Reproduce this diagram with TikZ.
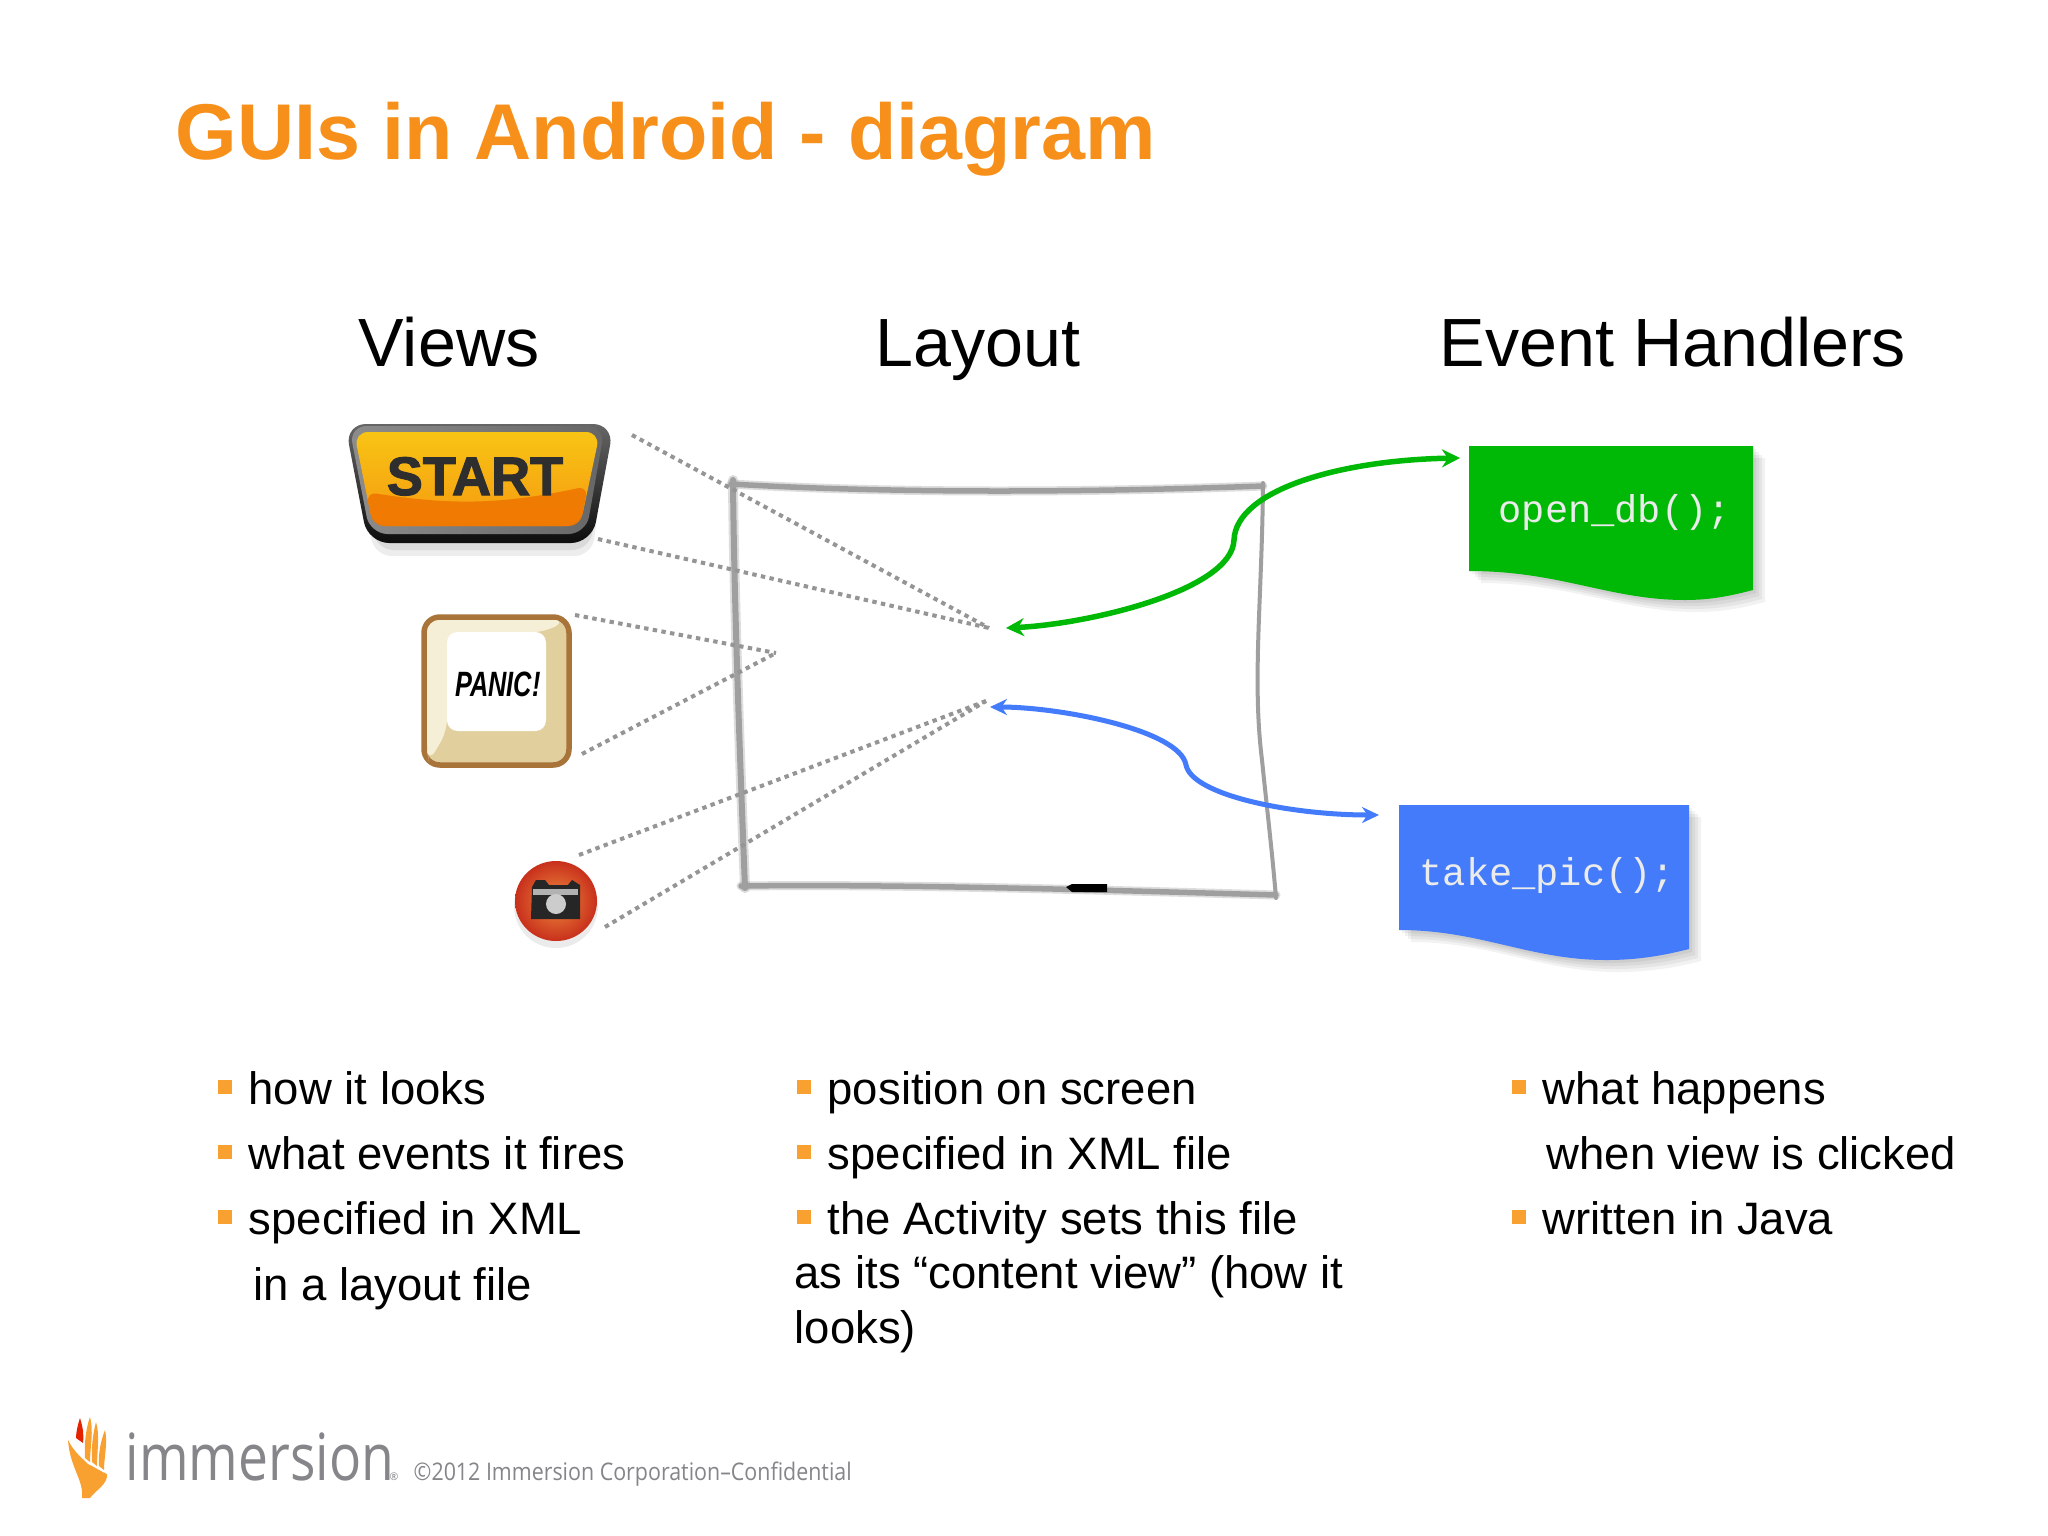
\documentclass[tikz,border=0pt]{standalone}
\usepackage{fontspec}
\setmainfont{Liberation Sans}
\newfontfamily\monof{Liberation Mono}
\newfontfamily\logof{Open Sans}
\usetikzlibrary{arrows.meta,calc}
\definecolor{titleor}{HTML}{F7901A}
\definecolor{bulor}{HTML}{F8A030}
\definecolor{grn}{HTML}{00B906}
\definecolor{blu}{HTML}{437BFB}
\definecolor{sk}{HTML}{9F9F9F}
\definecolor{dotg}{HTML}{959595}
\definecolor{logog}{HTML}{85858A}
\definecolor{keyb}{HTML}{A9743A}
\definecolor{keyl}{HTML}{F6EFD8}
\definecolor{keyd}{HTML}{E1CF9E}
\definecolor{btnt}{HTML}{F8C414}
\definecolor{btnb}{HTML}{F59A10}
\definecolor{btnl}{HTML}{F07400}
\definecolor{camc}{HTML}{EE8A3C}
\definecolor{camo}{HTML}{C8301C}
\tikzset{
  x=0.01cm,y=-0.01cm,
  titletxt/.style={anchor=base west,inner sep=0,text=titleor,font=\fontsize{22.5}{27}\selectfont\bfseries},
  headtxt/.style={anchor=base west,inner sep=0,font=\fontsize{19.4}{23}\selectfont},
  bodytxt/.style={anchor=base west,inner sep=0,font=\fontsize{12.93}{16}\selectfont},
  bul/.style={fill=bulor,draw=none},
  codetxt/.style={anchor=base west,inner sep=0,text=white!92!black,font=\monof\fontsize{11}{13}\selectfont},
  dotline/.style={draw=dotg,line width=0.04cm,dash pattern=on 1.25pt off 1.25pt},
  sketch/.style={draw=sk,line cap=round,line join=round},
  sketchblur/.style={draw=sk,opacity=0.35,line cap=round,line join=round},
  garrow/.style={draw=grn,line width=0.055cm,{Stealth[length=0.18cm,width=0.18cm]}-{Stealth[length=0.18cm,width=0.18cm]}},
  barrow/.style={draw=blu,line width=0.05cm,{Stealth[length=0.17cm,width=0.16cm]}-{Stealth[length=0.17cm,width=0.16cm]}},
  shad/.style={fill=black,fill opacity=0.05,draw=none},
}
\begin{document}
\begin{tikzpicture}
\useasboundingbox (0,0) rectangle (2048,1536);
\fill[white] (0,0) rectangle (2048,1536);

% title and headings
\node[titletxt] (title) at (175,159) {GUIs in Android - diagram};
\node[headtxt] (hviews) at (358,366) {Views};
\node[headtxt] (hlayout) at (875,366) {Layout};
\node[headtxt] (hevents) at (1439,366) {Event Handlers};

% sketched layout rectangle
\draw[sketchblur,line width=0.10cm] (733,480) .. controls (734,600) and (740,760) .. (745,888);
\draw[sketch,line width=0.06cm] (733,480) .. controls (734,600) and (740,760) .. (745,888);
\draw[sketchblur,line width=0.09cm] (731,484) .. controls (900,494) and (1100,492) .. (1263,486);
\draw[sketch,line width=0.055cm] (731,484) .. controls (900,494) and (1100,492) .. (1263,486);
\draw[sketch,line width=0.04cm] (1263,483) .. controls (1262,600) and (1252,680) .. (1262,760) .. controls (1266,800) and (1272,850) .. (1276,898);
\draw[sketchblur,line width=0.09cm] (741,886) .. controls (900,884) and (1100,890) .. (1276,895);
\draw[sketch,line width=0.055cm] (741,886) .. controls (900,884) and (1100,890) .. (1276,895);
\fill[black] (1066,887) -- (1072,884) -- (1107,884) -- (1107,892) -- (1072,892) -- cycle;

% START button
\fill[black,opacity=0.07,rounded corners=5pt] (358,450) -- (606,450) -- (592,556) -- (374,556) -- cycle;
\fill[black,opacity=0.08,rounded corners=5pt] (360,450) -- (604,450) -- (590,550) -- (376,550) -- cycle;
\shade[top color=black!60,bottom color=black!95,rounded corners=6pt] (345,424) -- (614,424) -- (592,543) -- (368,543) -- cycle;
\shade[left color=black!45,right color=black!60,rounded corners=5pt] (349,426) -- (605,426) -- (586,534) -- (370,534) -- cycle;
\shade[top color=btnt,bottom color=btnb,rounded corners=4pt] (354,432) -- (600,432) -- (580,526) -- (373,526) -- cycle;
\fill[btnl,opacity=0.85,rounded corners=3pt] (366,492) .. controls (450,505) and (500,505) .. (588,486) -- (580,526) -- (373,526) -- cycle;
\node[anchor=base,inner sep=0,text=black!82,font=\fontsize{15.4}{18}\selectfont\bfseries\addfontfeature{FakeBold=2}] (start) at (475,495) {START};

% PANIC key
\draw[keyb,line width=0.055cm,fill=keyd,rounded corners=4.5pt] (424,617) rectangle (569,765);
\fill[keyl,rounded corners=3.5pt] (427,620) -- (566,620) -- (546,632) -- (447,632) -- (447,731) -- (429,762) -- (427,750) -- cycle;
\fill[white,rounded corners=3pt] (447,632) rectangle (546,731);
\node[inner sep=0,font=\fontsize{10}{12}\selectfont\bfseries\itshape] (panic) at (498,684) {\scalebox{0.72}[1]{PANIC!}};

% camera button
\fill[black,opacity=0.08] (556,906) circle[x radius=42,y radius=42];
\shade[inner color=camc,outer color=camo] (556,901) circle[x radius=41,y radius=40];
\fill[black!85] (532,887) -- (536,880) -- (545,880) -- (549,885) -- (568,885) -- (572,880) -- (580,885) -- (580,919) -- (531,919) -- cycle;
\fill[black!30] (533,889) rectangle (578,895);
\fill[black!20] (556,904) circle[x radius=10,y radius=10];

% dotted connectors
\coordinate (v1) at (632,435);
\coordinate (v2) at (598,539);
\coordinate (v3) at (575,615);
\coordinate (v4) at (582,754);
\coordinate (v5) at (579,855);
\coordinate (v6) at (605,927);
\coordinate (lay1) at (989,628);
\coordinate (lay2) at (776,653);
\coordinate (lay3) at (986,701);
\draw[dotline] (v1) -- (lay1);
\draw[dotline] (v2) -- (lay1);
\draw[dotline] (v3) -- (lay2);
\draw[dotline] (v4) -- (lay2);
\draw[dotline] (v5) -- (lay3);
\draw[dotline] (v6) -- (lay3);

% code boxes
\foreach \d/\op in {12/1,9/1,6/1,3/1}{
  \fill[shad] (1469+\d,446+\d) -- (1753+\d,446+\d) -- (1753+\d,590+\d) .. controls (1730+\d,596+\d) and (1710+\d,600+\d) .. (1685+\d,600+\d) .. controls (1610+\d,600+\d) and (1560+\d,571+\d) .. (1469+\d,571+\d) -- cycle;
  \fill[shad] (1399+\d,805+\d) -- (1689+\d,805+\d) -- (1689+\d,949+\d) .. controls (1665+\d,955+\d) and (1640+\d,960+\d) .. (1606+\d,960+\d) .. controls (1530+\d,960+\d) and (1480+\d,930+\d) .. (1399+\d,930+\d) -- cycle;
}
\fill[grn] (1469,446) -- (1753,446) -- (1753,590) .. controls (1730,596) and (1710,600) .. (1685,600) .. controls (1610,600) and (1560,571) .. (1469,571) -- cycle;
\fill[blu] (1399,805) -- (1689,805) -- (1689,949) .. controls (1665,955) and (1640,960) .. (1606,960) .. controls (1530,960) and (1480,930) .. (1399,930) -- cycle;
\node[codetxt] (opendb) at (1498,522) {open\_db();};
\node[codetxt] (takepic) at (1419,885) {take\_pic();};

% arrows
\coordinate (ga) at (1006,628);
\coordinate (gb) at (1460,458);
\coordinate (ba) at (990,707);
\coordinate (bb) at (1379,815);
\draw[garrow] (ga) .. controls (1090,624) and (1232,590) .. (1234,540) .. controls (1236,490) and (1340,460) .. (gb);
\draw[barrow] (ba) .. controls (1060,707) and (1180,730) .. (1186,765) .. controls (1192,795) and (1290,815) .. (bb);

% bullets: column 1
\foreach \yy in {1080,1145,1210}{\fill[bul] (218,\yy) rectangle +(14,14);}
\node[bodytxt] (c1a) at (248,1104) {how it looks};
\node[bodytxt] (c1b) at (248,1169) {what events it fires};
\node[bodytxt] (c1c) at (248,1234) {specified in XML};
\node[bodytxt] (c1d) at (253,1300) {in a layout file};
% column 2
\foreach \yy in {1080,1145,1210}{\fill[bul] (797,\yy) rectangle +(14,14);}
\node[bodytxt] (c2a) at (827,1104) {position on screen};
\node[bodytxt] (c2b) at (827,1169) {specified in XML file};
\node[bodytxt] (c2c) at (827,1234) {the Activity sets this file};
\node[bodytxt] (c2d) at (794,1288) {as its “content view” (how it};
\node[bodytxt] (c2e) at (794,1343) {looks)};
% column 3
\foreach \yy in {1080,1210}{\fill[bul] (1512,\yy) rectangle +(14,14);}
\node[bodytxt] (c3a) at (1542,1104) {what happens};
\node[bodytxt] (c3b) at (1546,1169) {when view is clicked};
\node[bodytxt] (c3c) at (1542,1234) {written in Java};

% logo
\fill[bulor] (68,1440) .. controls (74,1452) and (82,1458) .. (88,1464) .. controls (96,1468) and (102,1472) .. (107,1474) .. controls (108,1484) and (96,1490) .. (90,1498) -- (82,1498) .. controls (84,1480) and (70,1468) .. (68,1440) -- cycle;
\fill[red!70!orange!90!black] (80,1418) .. controls (83,1428) and (84,1434) .. (83,1443) -- (76,1438) .. controls (76,1432) and (78,1424) .. (80,1418) -- cycle;
\fill[bulor] (90,1417) .. controls (94,1430) and (90,1448) .. (90,1462) -- (85,1458) .. controls (84,1444) and (86,1428) .. (90,1417) -- cycle;
\fill[bulor] (96,1422) .. controls (100,1434) and (97,1452) .. (97,1466) -- (92,1462) .. controls (91,1448) and (93,1434) .. (96,1422) -- cycle;
\fill[bulor] (105,1430) .. controls (108,1442) and (104,1458) .. (104,1470) -- (99,1466) .. controls (98,1454) and (101,1440) .. (105,1430) -- cycle;
\node[anchor=base west,inner sep=0,text=logog,font=\logof\fontsize{18.5}{23}\selectfont] (immers) at (125,1480) {\scalebox{0.82}[1]{immersion}};
\node[anchor=base west,inner sep=0,text=logog,font=\logof\fontsize{3}{4}\selectfont] (regm) at (389,1480) {®};
\node[anchor=base west,inner sep=0,text=logog,font=\logof\fontsize{6.9}{8}\selectfont] (copyr) at (413,1480) {\scalebox{0.882}[1]{©2012 Immersion Corporation–Confidential}};
\end{tikzpicture}
\end{document}
